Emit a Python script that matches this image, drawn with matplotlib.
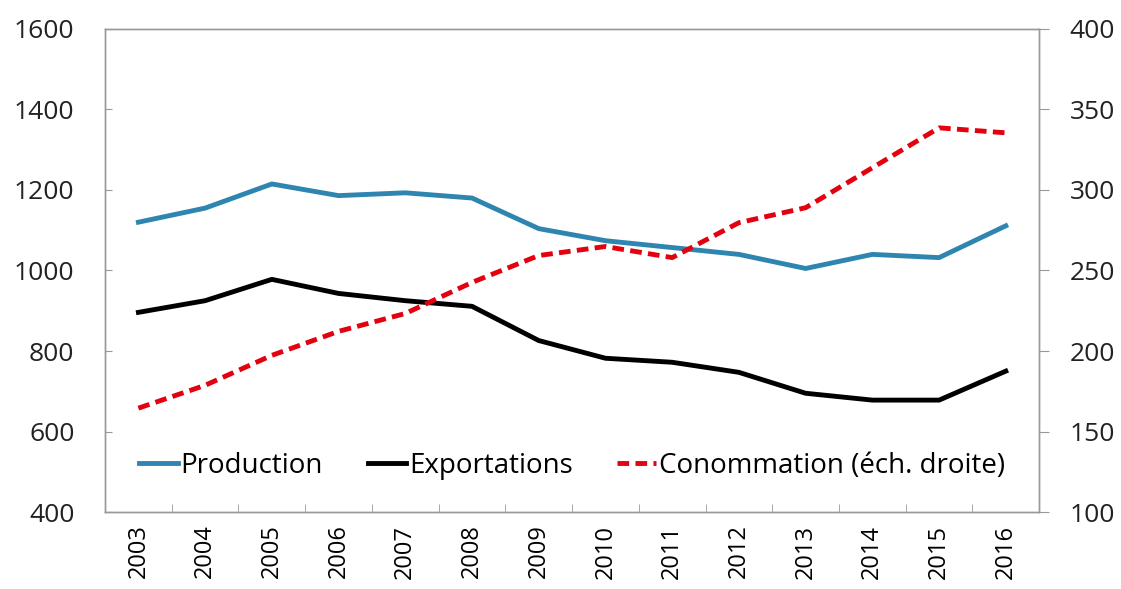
import matplotlib
matplotlib.use("Agg")
import matplotlib.pyplot as plt
import numpy as np

years = ["2003", "2004", "2005", "2006", "2007", "2008", "2009",
         "2010", "2011", "2012", "2013", "2014", "2015", "2016"]
production = [1120, 1155, 1215, 1186, 1193, 1180, 1104,
              1074, 1057, 1040, 1005, 1040, 1032, 1111]
exportations = [896, 925, 978, 943, 925, 911, 826,
                782, 772, 747, 695, 678, 678, 750]
consommation = [164.5, 178.7, 197.3, 212.2, 223.3, 242.6, 259.3,
                264.9, 258.0, 279.7, 289.0, 313.8, 338.6, 335.5]

plt.rcParams['font.family'] = ['Open Sans', 'DejaVu Sans']
plt.rcParams['font.size'] = 19

fig = plt.figure(figsize=(11.21, 5.89), dpi=100)
ax = fig.add_axes([0.0937, 0.1307, 0.8333, 0.8201])
ax2 = ax.twinx()

x = np.arange(len(years))
l1, = ax.plot(x, production, color='#2E86B0', lw=3.5, label='Production')
l2, = ax.plot(x, exportations, color='#000000', lw=3.5, label='Exportations')
l3, = ax2.plot(x, consommation, color='#E3000F', lw=3.5, ls=(0, (2.4, 1.3)),
               label='Conommation (éch. droite)')

ax.set_xlim(-0.5, len(years) - 0.5)
ax.set_ylim(400, 1600)
ax.set_yticks(range(400, 1601, 200))
ax2.set_ylim(100, 400)
ax2.set_yticks(range(100, 401, 50))

ax.set_xticks(x)
ax.set_xticklabels(years, rotation=90, fontsize=17)
ax.set_xticks(np.arange(0.5, len(years) - 0.5), minor=True)
ax.tick_params(axis='x', which='major', length=0, pad=9)
ax.tick_params(axis='x', which='minor', direction='in', length=6, color='#999999')
ax.tick_params(axis='y', direction='in', length=5, color='#999999', pad=22, labelcolor='#222222')
ax2.tick_params(axis='y', direction='out', length=7, color='#999999', pad=15, labelcolor='#222222')

for a in (ax, ax2):
    for s in a.spines.values():
        s.set_color('#999999')
        s.set_linewidth(1)

ax.legend(handles=[l1, l2, l3], loc='lower center', bbox_to_anchor=(0.5, 0.015),
          ncol=3, frameon=False, handlelength=1.4, handletextpad=0.1,
          columnspacing=1.6, fontsize=20)

fig.savefig('out.png', dpi=100)
